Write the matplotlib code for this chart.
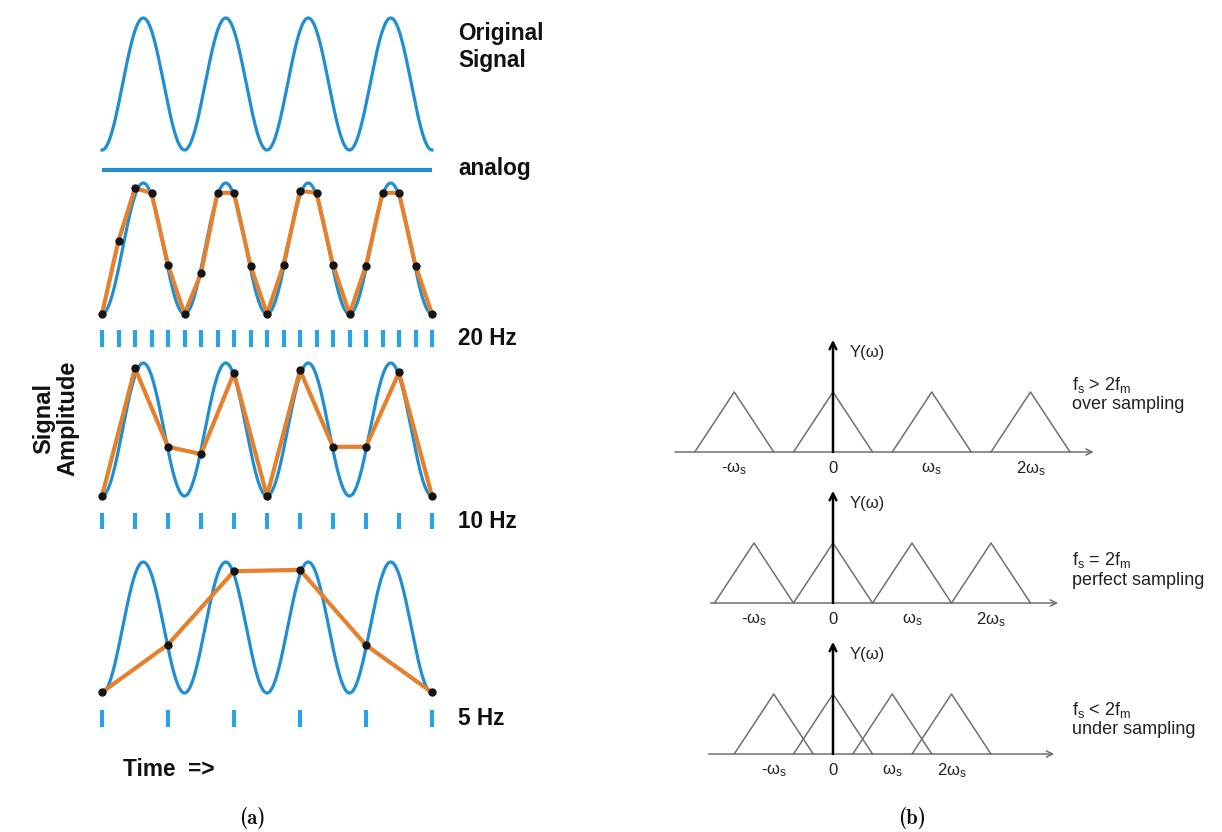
import numpy as np
import matplotlib.pyplot as plt

plt.rcParams['font.family'] = ['Liberation Sans', 'DejaVu Sans']
plt.rcParams['mathtext.fontset'] = 'custom'
plt.rcParams['mathtext.rm'] = 'Liberation Sans'
plt.rcParams['mathtext.it'] = 'Liberation Sans:italic'

W, H = 1222, 832

# ---- panel (a): sampling in time ----
signal_freq = 4          # Hz, one second is shown
rates = [20, 10, 5]
rate_labels = ['20 Hz', '10 Hz', '5 Hz']

samples_20 = [-1.0, 0.12, 0.92, 0.85, -0.25, -1.0, -0.38, 0.85, 0.85, -0.26, -1.0,
              -0.25, 0.88, 0.85, -0.25, -1.0, -0.26, 0.85, 0.85, -0.26, -1.0]
samples_10 = [-1.0, 0.92, -0.26, -0.37, 0.85, -1.0, 0.89, -0.26, -0.26, 0.86, -1.0]
samples_5 = [-0.99, -0.26, 0.86, 0.88, -0.27, -0.99]

# ---- panel (b): spectra ----
omega_s = [2.5, 2.0, 1.5]      # in units of the signal bandwidth
band = 1.0
axis_ranges = [(-4.0, 6.6), (-3.1, 5.7), (-3.15, 5.6)]
tick_names = ['-ω$_\\mathrm{s}$', '0', 'ω$_\\mathrm{s}$', '2ω$_\\mathrm{s}$']
conditions = ['f$_\\mathrm{s}$ > 2f$_\\mathrm{m}$',
              'f$_\\mathrm{s}$ = 2f$_\\mathrm{m}$',
              'f$_\\mathrm{s}$ < 2f$_\\mathrm{m}$']
regimes = ['over sampling', 'perfect sampling', 'under sampling']

BLUE = '#1f8fd2'
TICKBLUE = '#2ba2e4'
ORANGE = '#e5802c'

fig = plt.figure(figsize=(W / 100, H / 100), dpi=100)


def box(x0, y0, x1, y1):
    # axes placed by pixel box (top-left origin)
    ax = fig.add_axes([x0 / W, 1 - y1 / H, (x1 - x0) / W, (y1 - y0) / H])
    ax.set_axis_off()
    return ax


t = np.linspace(0, 1, 800)
wave = -np.cos(2 * np.pi * signal_freq * t)

top = box(102, 18, 432, 150)
top.set_xlim(0, 1)
top.set_ylim(-1, 1)
top.plot(t, wave, color=BLUE, lw=2.3, clip_on=False)

analog = box(102, 160, 432, 180)
analog.set_xlim(0, 1)
analog.set_ylim(-1, 1)
analog.plot([0, 1], [0, 0], color=BLUE, lw=3, solid_capstyle='butt')

bold = dict(fontsize=16.3, fontweight='bold', color='#111111')
fig.text(458 / W, 1 - 47 / H, 'Original\nSignal', ha='left', va='center', linespacing=1.2, **bold)
fig.text(458 / W, 1 - 168 / H, 'analog', ha='left', va='center', **bold)

rows = [(183, 314, 330, 347), (363, 496, 513, 529), (562, 693, 710, 727)]
for (y0, y1, ty0, ty1), rate, samples, label in zip(rows, rates,
                                                    [samples_20, samples_10, samples_5],
                                                    rate_labels):
    ax = box(102, y0, 432, y1)
    ax.set_xlim(0, 1)
    ax.set_ylim(-1, 1)
    ts = np.arange(len(samples)) / rate
    ax.plot(t, wave, color=BLUE, lw=2.3, zorder=1, clip_on=False)
    ax.plot(ts, samples, color=ORANGE, lw=3, zorder=2, clip_on=False)
    ax.plot(ts, samples, 'o', color='#151515', ms=5, zorder=3, clip_on=False)

    tk = box(102, ty0, 432, ty1)
    tk.set_xlim(0, 1)
    tk.set_ylim(0, 1)
    tk.vlines(ts, 0, 1, color=TICKBLUE, lw=3, clip_on=False)
    fig.text(458 / W, 1 - (ty0 + ty1) / 2 / H, label, ha='left', va='center', **bold)

fig.text(56 / W, 1 - 418 / H, 'Signal\nAmplitude', rotation=90, ha='center', va='center',
         linespacing=1.05, fontsize=17, fontweight='bold', color='#111111')
fig.text(123 / W, 1 - 769 / H, 'Time  =>', ha='left', va='center', **bold)

# spectra
base_px = [452, 603, 754]
cond_y = [1.12, 0.72, 0.74]
regime_y = [0.80, 0.38, 0.40]
for i, ws in enumerate(omega_s):
    b = base_px[i]
    ax = box(660, b - 130, 1222, b + 30)
    ax.set_xlim((660 - 833) / 39.5, (1222 - 833) / 39.5)
    ax.set_ylim(-0.5, 130 / 60)
    centers = np.arange(-1, 3) * ws
    for c in centers:
        ax.plot([c - band, c, c + band], [0, 1, 0], color='#707070', lw=1.1)
    lo, hi = axis_ranges[i]
    ax.annotate('', xy=(hi, 0), xytext=(lo, 0),
                arrowprops=dict(arrowstyle='->', color='#707070', lw=1.1,
                                mutation_scale=11, shrinkA=0, shrinkB=0))
    ax.annotate('', xy=(0, 1.87), xytext=(0, 0),
                arrowprops=dict(arrowstyle='->', color='black', lw=1.8,
                                mutation_scale=12, shrinkA=0, shrinkB=0), zorder=5)
    ax.text(0.43, 1.66, 'Y(ω)', fontsize=12, color='#222222', ha='left', va='center')
    for c, name in zip(centers, tick_names):
        ax.text(c, -0.27, name, fontsize=12, color='#222222', ha='center', va='center')
    ax.text(6.05, cond_y[i], conditions[i], fontsize=13, color='#222222', ha='left', va='center')
    ax.text(6.05, regime_y[i], regimes[i], fontsize=13, color='#222222', ha='left', va='center')

cap = dict(fontsize=15, family=['cmb10', 'DejaVu Serif'], ha='center', va='center', color='#111111')
fig.text(252 / W, 1 - 818 / H, '(a)', **cap)
fig.text(912 / W, 1 - 818 / H, '(b)', **cap)

fig.savefig('out.png', dpi=100, facecolor='white')
